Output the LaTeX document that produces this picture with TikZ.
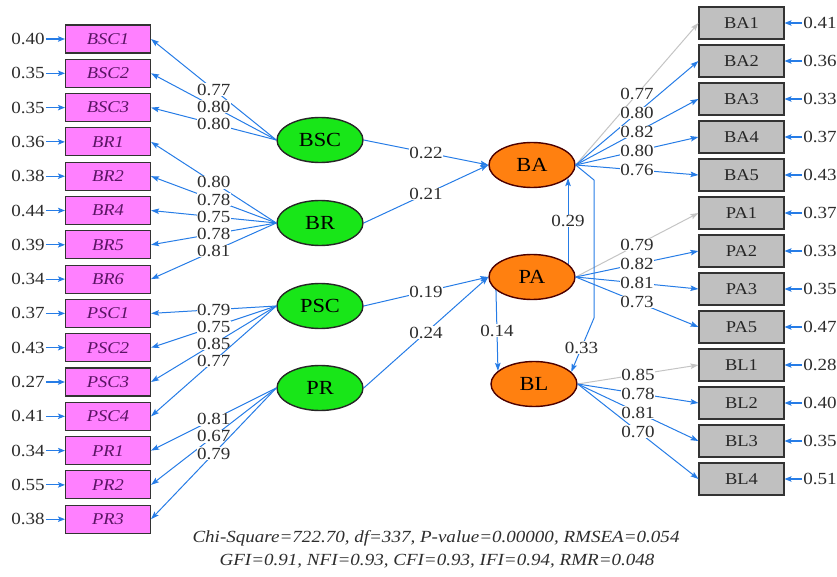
\documentclass[tikz,border=0pt]{standalone}
\usepackage{fontspec}
\setmainfont[FakeStretch=1.12]{Liberation Serif}
\usepackage{tikz}
\usetikzlibrary{arrows.meta}
\usetikzlibrary{shapes.geometric}

\definecolor{pathblue}{RGB}{38,124,230}
\definecolor{pathgray}{RGB}{196,196,196}
\definecolor{pinkfill}{RGB}{255,128,255}
\definecolor{pinktext}{RGB}{90,20,100}
\definecolor{grayfill}{RGB}{192,192,192}
\definecolor{latgreen}{RGB}{24,230,24}
\definecolor{latorange}{RGB}{255,128,16}
\definecolor{labtext}{RGB}{45,45,45}

\tikzset{
	indbox/.style={draw=black!80, line width=1.1pt, fill=pinkfill, text=pinktext,
			minimum width=85pt, minimum height=28pt, inner sep=0pt,
			font=\fontsize{16.5}{16.5}\selectfont\itshape},
	depbox/.style={draw=black!80, line width=1.1pt, fill=grayfill, text=black!85,
			minimum width=85pt, minimum height=32pt, inner sep=0pt,
			font=\fontsize{16.5}{16.5}\selectfont},
	exolat/.style={ellipse, draw=black!85, line width=1.4pt, fill=latgreen,
			minimum width=86pt, minimum height=45pt, inner sep=0pt,
			font=\fontsize{20}{20}\selectfont},
	endolat/.style={exolat, draw=black!70!red, fill=latorange},
	load/.style={draw=pathblue, line width=1pt, -{Stealth[length=8pt,width=5.5pt,inset=1.5pt]}},
	fixed/.style={load, draw=pathgray},
	coef/.style={fill=white, inner sep=0.5pt, text=labtext, font=\fontsize{17}{17}\selectfont},
	errlab/.style={inner sep=1pt, text=labtext, font=\fontsize{17}{17}\selectfont},
	errarrow/.style={draw=pathblue, line width=1.1pt, -{Stealth[length=7pt,width=5.5pt,inset=1.5pt]}}
}

\begin{document}
\begin{tikzpicture}[x=1pt,y=-1pt]
		\useasboundingbox (0,0) rectangle (837,577);

		% Left indicators with their error variances
		\foreach \name/\err [count=\k from 0] in {BSC1/0.40, BSC2/0.35, BSC3/0.35, BR1/0.36, BR2/0.38, BR4/0.44, BR5/0.39, BR6/0.34, PSC1/0.37, PSC2/0.43, PSC3/0.27, PSC4/0.41, PR1/0.34, PR2/0.55, PR3/0.38} {
				\node[indbox] (\name) at (108, 39+34.3*\k) {\name};
				\node[errlab] (e\name) at (28, 39+34.3*\k) {\err};
				\draw[errarrow] (e\name.east) -- (\name.west);
			}

		% Right indicators with their error variances
		\foreach \name/\err [count=\k from 0] in {BA1/0.41, BA2/0.36, BA3/0.33, BA4/0.37, BA5/0.43, PA1/0.37, PA2/0.33, PA3/0.35, PA5/0.47, BL1/0.28, BL2/0.40, BL3/0.35, BL4/0.51} {
				\node[depbox] (\name) at (741.5, 23+38*\k) {\name};
				\node[errlab] (e\name) at (820, 23+38*\k) {\err};
				\draw[errarrow] (e\name.west) -- (\name.east);
			}

		% Latent variables
		\node[exolat] (BSC) at (320,140) {BSC};
		\node[exolat] (BR) at (320,223) {BR};
		\node[exolat] (PSC) at (320,306) {PSC};
		\node[exolat] (PR) at (320,388) {PR};
		\node[endolat] (BA) at (532,165) {BA};
		\node[endolat] (PA) at (532,277) {PA};
		\node[endolat] (BL) at (534,384) {BL};

		% Loadings on the left
		\foreach \lat/\item/\val in {BSC/BSC1/0.77, BSC/BSC2/0.80, BSC/BSC3/0.80, BR/BR1/0.80, BR/BR2/0.78, BR/BR4/0.75, BR/BR5/0.78, BR/BR6/0.81, PSC/PSC1/0.79, PSC/PSC2/0.75, PSC/PSC3/0.85, PSC/PSC4/0.77, PR/PR1/0.81, PR/PR2/0.67, PR/PR3/0.79} {
				\draw[load] (\lat.west) -- node[coef] {\val} (\item.east);
			}

		% Loadings on the right (first one fixed)
		\foreach \lat/\item/\val/\sty in {BA/BA1/0.77/fixed, BA/BA2/0.80/load, BA/BA3/0.82/load, BA/BA4/0.80/load, BA/BA5/0.76/load, PA/PA1/0.79/fixed, PA/PA2/0.82/load, PA/PA3/0.81/load, PA/PA5/0.73/load, BL/BL1/0.85/fixed, BL/BL2/0.78/load, BL/BL3/0.81/load, BL/BL4/0.70/load} {
				\draw[\sty] (\lat.east) -- node[coef] {\val} (\item.west);
			}

		% Structural paths
		\draw[load] (BSC.east) -- node[coef] {0.22} (BA.west);
		\draw[load] (BR.east) -- node[coef] {0.21} (BA.west);
		\draw[load] (PSC.east) -- node[coef] {0.19} (PA.west);
		\draw[load] (PR.east) -- node[coef] {0.24} (PA.west);
		\draw[load] (PA.20) -- node[coef] {0.29} (BA.-20);
		\draw[load] (PA.200) -- node[coef] {0.14} (BL.160);
		\coordinate (bend1) at (594,180);
		\coordinate (bend2) at (594,318);
		\draw[load] (BA.east) -- (bend1) -- (bend2) -- node[coef, pos=0.55] {0.33} (BL.18);

		% Fit indices
		\node[font=\fontsize{17}{17}\selectfont\itshape, text=labtext] (fit1) at (436,538) {Chi-Square=722.70, df=337, P-value=0.00000, RMSEA=0.054};
		\node[font=\fontsize{17}{17}\selectfont\itshape, text=labtext] (fit2) at (437,561) {GFI=0.91, NFI=0.93, CFI=0.93, IFI=0.94, RMR=0.048};
	\end{tikzpicture}
\end{document}
